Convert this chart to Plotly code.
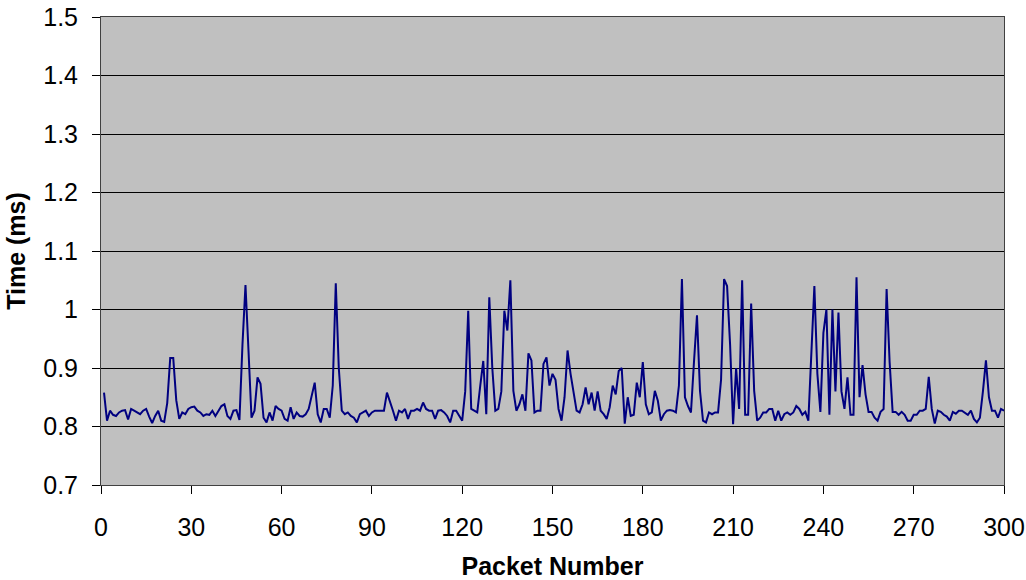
import plotly.graph_objects as go

# Packet delay values (ms), packets 1..300
times_001_050 = [0.858, 0.81, 0.827, 0.82, 0.818, 0.824, 0.827, 0.828, 0.812, 0.83,
                 0.827, 0.824, 0.821, 0.827, 0.83, 0.817, 0.806, 0.818, 0.827, 0.81,
                 0.808, 0.84, 0.917, 0.917, 0.845, 0.813, 0.824, 0.821, 0.83, 0.833,
                 0.834, 0.827, 0.824, 0.818, 0.821, 0.82, 0.827, 0.818, 0.827, 0.835,
                 0.838, 0.818, 0.813, 0.827, 0.828, 0.811, 0.94, 1.042, 0.93, 0.815]
times_051_100 = [0.827, 0.884, 0.873, 0.815, 0.807, 0.824, 0.81, 0.835, 0.83, 0.827,
                 0.813, 0.81, 0.833, 0.813, 0.824, 0.818, 0.817, 0.821, 0.83, 0.855,
                 0.875, 0.821, 0.807, 0.83, 0.83, 0.815, 0.87, 1.045, 0.9, 0.827,
                 0.821, 0.824, 0.818, 0.815, 0.807, 0.821, 0.824, 0.827, 0.818, 0.824,
                 0.827, 0.827, 0.828, 0.827, 0.858, 0.844, 0.827, 0.81, 0.827, 0.824]
times_101_150 = [0.83, 0.813, 0.827, 0.827, 0.83, 0.827, 0.841, 0.83, 0.827, 0.827,
                 0.813, 0.827, 0.828, 0.824, 0.818, 0.807, 0.827, 0.827, 0.818, 0.81,
                 0.86, 0.998, 0.83, 0.827, 0.824, 0.87, 0.912, 0.821, 1.021, 0.9,
                 0.827, 0.83, 0.86, 0.998, 0.964, 1.05, 0.861, 0.827, 0.838, 0.855,
                 0.827, 0.925, 0.913, 0.824, 0.827, 0.827, 0.907, 0.918, 0.87, 0.89]
times_151_200 = [0.88, 0.83, 0.81, 0.85, 0.93, 0.89, 0.858, 0.827, 0.824, 0.838,
                 0.867, 0.838, 0.858, 0.827, 0.86, 0.827, 0.821, 0.813, 0.833, 0.87,
                 0.855, 0.895, 0.9, 0.805, 0.85, 0.818, 0.82, 0.875, 0.85, 0.91,
                 0.838, 0.821, 0.824, 0.861, 0.844, 0.81, 0.821, 0.827, 0.828, 0.827,
                 0.824, 0.87, 1.052, 0.85, 0.835, 0.824, 0.91, 0.99, 0.861, 0.81]
times_201_250 = [0.807, 0.824, 0.821, 0.824, 0.824, 0.88, 1.052, 1.04, 0.94, 0.804,
                 0.9, 0.83, 1.05, 0.82, 0.82, 1.01, 0.861, 0.81, 0.815, 0.824,
                 0.824, 0.83, 0.83, 0.81, 0.827, 0.81, 0.821, 0.824, 0.82, 0.824,
                 0.835, 0.83, 0.82, 0.825, 0.81, 0.935, 1.04, 0.89, 0.825, 0.96,
                 1.0, 0.82, 1.0, 0.86, 0.995, 0.86, 0.83, 0.884, 0.82, 0.82]
times_251_300 = [1.055, 0.85, 0.905, 0.855, 0.825, 0.825, 0.815, 0.81, 0.825, 0.83,
                 1.035, 0.91, 0.825, 0.825, 0.82, 0.825, 0.82, 0.81, 0.81, 0.82,
                 0.82, 0.827, 0.827, 0.83, 0.885, 0.83, 0.805, 0.827, 0.825, 0.82,
                 0.817, 0.81, 0.825, 0.822, 0.827, 0.827, 0.824, 0.82, 0.827, 0.813,
                 0.807, 0.815, 0.86, 0.913, 0.85, 0.827, 0.827, 0.815, 0.83, 0.827]

times = (times_001_050 + times_051_100 + times_101_150 +
         times_151_200 + times_201_250 + times_251_300)
packets = list(range(1, len(times) + 1))

x_ticks = [0, 30, 60, 90, 120, 150, 180, 210, 240, 270, 300]
y_ticks = [0.7, 0.8, 0.9, 1.0, 1.1, 1.2, 1.3, 1.4, 1.5]
y_tick_labels = ["0.7", "0.8", "0.9", "1", "1.1", "1.2", "1.3", "1.4", "1.5"]

FONT = "Liberation Sans, Arial, sans-serif"

fig = go.Figure()
fig.add_trace(go.Scatter(
    x=packets, y=times, mode="lines",
    line=dict(color="#000080", width=2),
    showlegend=False,
))

fig.update_layout(
    width=1026, height=580,
    margin=dict(l=101, r=22, t=17, b=95, autoexpand=False),
    paper_bgcolor="white",
    plot_bgcolor="#C0C0C0",
    font=dict(family=FONT, size=25, color="black"),
)
fig.update_xaxes(
    range=[0, 300], tickvals=x_ticks, ticktext=[str(v) for v in x_ticks],
    showgrid=False, zeroline=False, automargin=False,
    showline=True, linecolor="#404040", linewidth=1, mirror=True,
    ticks="outside", ticklen=8, tickcolor="black", ticklabelstandoff=12,
    ticklabeloverflow="allow",
    title=dict(text="<b>Packet Number</b>", font=dict(family=FONT, size=25), standoff=25),
)
fig.update_yaxes(
    range=[0.7, 1.5], tickvals=y_ticks, ticktext=y_tick_labels,
    showgrid=True, gridcolor="black", gridwidth=1, zeroline=False, automargin=False,
    showline=True, linecolor="#404040", linewidth=1, mirror=True,
    ticks="outside", ticklen=8, tickcolor="black", ticklabelstandoff=9,
    ticklabeloverflow="allow",
    title=dict(text="<b>Time (ms)</b>", font=dict(family=FONT, size=25), standoff=10),
)

# remove the default 8px page margin so the figure fills the window exactly
fig.write_html(
    "out.html",
    config={"displayModeBar": False},
    post_script="document.body.style.margin='0';document.body.style.overflow='hidden';",
)
